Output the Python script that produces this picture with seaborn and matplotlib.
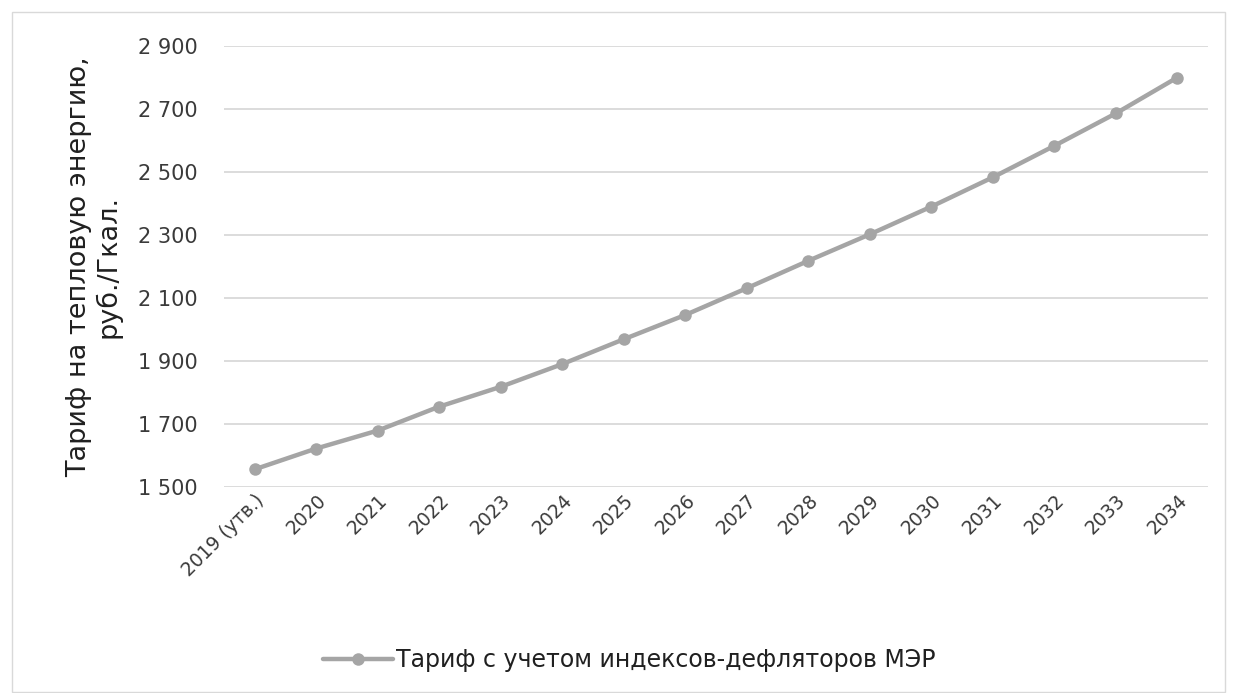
import matplotlib
matplotlib.use("Agg")
import matplotlib.pyplot as plt
import matplotlib.ticker as mticker
import numpy as np
import pandas as pd
import seaborn as sns

years = ["2019 (утв.)", "2020", "2021", "2022", "2023", "2024", "2025", "2026",
         "2027", "2028", "2029", "2030", "2031", "2032", "2033", "2034"]
tariff = [1556, 1622, 1679, 1755, 1818, 1890, 1969, 2046,
          2131, 2218, 2302, 2390, 2483, 2583, 2686, 2800]
series_name = "Тариф с учетом индексов-дефляторов МЭР"

sns.set_style("white")
plt.rcParams['font.family'] = ['DejaVu Sans']

df = pd.DataFrame({"year": years, "value": tariff})

fig = plt.figure(figsize=(12.37, 6.93), dpi=100)
ax = fig.add_axes([0.181, 0.2973, 0.7956, 0.6363])

grey = "#a5a5a5"
sns.lineplot(data=df, x="year", y="value", sort=False, ax=ax, color=grey,
             linewidth=3.2, marker="o", markersize=9, markeredgewidth=0,
             label=series_name)

ax.set_xlim(-0.5, len(years) - 0.5)
ax.set_ylim(1500, 2900)
ax.set_yticks(np.arange(1500, 2901, 200))
ax.yaxis.set_major_formatter(mticker.FuncFormatter(lambda v, p: f"{int(v):,}".replace(",", " ")))
ax.grid(axis="y", color="#d9d9d9", linewidth=1.3)
ax.set_axisbelow(True)
for s in ax.spines.values():
    s.set_visible(False)

ax.tick_params(axis="y", length=0, pad=19, labelsize=15, labelcolor="#3a3a3a")
ax.tick_params(axis="x", length=0, pad=3, labelsize=13.5, labelcolor="#3a3a3a")
plt.setp(ax.get_xticklabels(), rotation=45, ha="right", rotation_mode="anchor")

ax.set_xlabel("")
ax.set_ylabel("Тариф на тепловую энергию,\nруб./Гкал.", fontsize=19.5, color="#202020",
              labelpad=12, linespacing=1.1)

ax.legend(loc="center", bbox_to_anchor=(629 / 1237, 1 - 660 / 693), bbox_transform=fig.transFigure,
          frameon=False, fontsize=17, handlelength=3.0, handletextpad=0.1,
          labelcolor="#202020")

# thin border round the chart area
fig.patches.append(plt.Rectangle((12 / 1237, 0.002), 1213 / 1237, 1 - 12 / 693 - 0.002,
                                 transform=fig.transFigure, fill=False,
                                 edgecolor="#d9d9d9", linewidth=1))

fig.savefig("out.png", dpi=100)
